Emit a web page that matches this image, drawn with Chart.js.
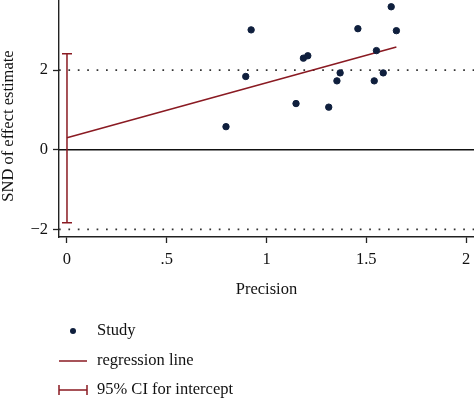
<!DOCTYPE html>
<html>
<head>
<meta charset="utf-8">
<script src="https://cdn.jsdelivr.net/npm/chart.js@4/dist/chart.umd.min.js"></script>
<style>
html,body{margin:0;padding:0;background:#fff;}
#wrap{width:474px;height:400px;}
</style>
</head>
<body>
<div id="wrap"><canvas id="c" width="474" height="400"></canvas></div>
<script>
// Study points: precision (x) and standardized effect (SND, y)
const studyPrecision = [0.797, 0.896, 0.923, 1.148, 1.185, 1.207, 1.312, 1.353, 1.369, 1.458, 1.540, 1.551, 1.585, 1.625, 1.651];
const studySND       = [0.58, 1.84, 3.01, 1.16, 2.30, 2.36, 1.07, 1.73, 1.93, 3.04, 1.73, 2.49, 1.93, 3.59, 2.99];
// Regression line endpoints
const regX = [0, 1.651];
const regY = [0.30, 2.58];
// 95% CI for intercept
const ciX = 0;
const ciLow = -1.83;
const ciHigh = 2.41;
// Axis ticks
const xTicks = [0, 0.5, 1, 1.5, 2];
const yTicks = [-2, 0, 2];
const xRange = [-0.04, 2.04];
const yRange = [-2.19, 3.76];
// Reference lines
const refLevels = [0, 2, -2];
const yTitle = 'SND of effect estimate';

const NAVY = '#0f1f3d';
const RED = '#8a1a22';
const AXIS = '#222';
const FONT = "'Liberation Serif', 'Times New Roman', serif";
const FS = 16.5;

const pts = studyPrecision.map((x, i) => ({x, y: studySND[i]}));

const refDatasets = refLevels.map(v => ({
  type: 'line',
  label: 'ref' + v,
  data: xRange.map(x => ({x, y: v})),
  borderColor: v === 0 ? '#111' : '#333',
  borderWidth: v === 0 ? 1.4 : 1.7,
  borderDash: v === 0 ? [] : [1.7, 7.7],
  pointRadius: 0,
  fill: false,
  order: 5
}));

const errorBar = {
  id: 'errorBar',
  afterDatasetsDraw(chart) {
    const {ctx, scales: {x, y}} = chart;
    const px = x.getPixelForValue(ciX);
    const yt = y.getPixelForValue(ciHigh);
    const yb = y.getPixelForValue(ciLow);
    ctx.save();
    ctx.strokeStyle = RED;
    ctx.lineWidth = 1.5;
    ctx.beginPath();
    ctx.moveTo(px, yt); ctx.lineTo(px, yb);
    ctx.moveTo(px - 5, yt); ctx.lineTo(px + 5, yt);
    ctx.moveTo(px - 5, yb); ctx.lineTo(px + 5, yb);
    ctx.stroke();
    ctx.restore();
  }
};

const yTitlePlugin = {
  id: 'yTitle',
  afterDraw(chart) {
    const ctx = chart.ctx;
    ctx.save();
    ctx.font = FS + 'px ' + FONT;
    ctx.fillStyle = '#111';
    ctx.textAlign = 'center';
    ctx.textBaseline = 'middle';
    ctx.translate(9, 126);
    ctx.rotate(-Math.PI / 2);
    ctx.fillText(yTitle, 0, 0);
    ctx.restore();
  }
};

const legendPlugin = {
  id: 'customLegend',
  afterDraw(chart) {
    const ctx = chart.ctx;
    const items = chart.data.datasets.filter(d => d.legendKind);
    ctx.save();
    ctx.font = FS + 'px ' + FONT;
    ctx.textBaseline = 'middle';
    const ys = [331, 361, 390];
    items.forEach((d, i) => {
      const yy = ys[i];
      if (d.legendKind === 'point') {
        ctx.fillStyle = NAVY;
        ctx.beginPath(); ctx.arc(73, yy, 3, 0, Math.PI * 2); ctx.fill();
      } else if (d.legendKind === 'line') {
        ctx.strokeStyle = RED; ctx.lineWidth = 1.5;
        ctx.beginPath(); ctx.moveTo(59, yy); ctx.lineTo(87, yy); ctx.stroke();
      } else {
        ctx.strokeStyle = RED; ctx.lineWidth = 1.5;
        ctx.beginPath(); ctx.moveTo(59, yy); ctx.lineTo(87, yy);
        ctx.moveTo(59, yy - 5); ctx.lineTo(59, yy + 5);
        ctx.moveTo(87, yy - 5); ctx.lineTo(87, yy + 5);
        ctx.stroke();
      }
      ctx.fillStyle = '#111';
      ctx.fillText(d.label, 97, yy);
    });
    ctx.restore();
  }
};

new Chart(document.getElementById('c'), {
  type: 'scatter',
  data: {
    datasets: [
      {
        type: 'scatter',
        label: 'Study',
        legendKind: 'point',
        data: pts,
        backgroundColor: NAVY,
        borderColor: NAVY,
        pointRadius: 3.2,
        pointHoverRadius: 3.2,
        order: 1,
        clip: false
      },
      {
        type: 'line',
        label: 'regression line',
        legendKind: 'line',
        data: regX.map((x, i) => ({x, y: regY[i]})),
        borderColor: RED,
        borderWidth: 1.6,
        pointRadius: 0,
        fill: false,
        order: 2
      },
      {
        type: 'scatter',
        label: '95% CI for intercept',
        legendKind: 'ci',
        data: [],
        pointRadius: 0
      },
      ...refDatasets
    ]
  },
  options: {
    responsive: false,
    animation: false,
    devicePixelRatio: 1,
    layout: { autoPadding: false, padding: { top: 0, right: 0, left: 0, bottom: 100 } },
    plugins: { legend: { display: false }, tooltip: { enabled: false } },
    scales: {
      x: {
        type: 'linear',
        min: xRange[0], max: xRange[1],
        afterBuildTicks: s => { s.ticks = xTicks.map(v => ({value: v})); },
        afterFit: s => { s.height = 63; s.paddingLeft = 0; s.paddingRight = 0; },
        ticks: {
          font: { family: FONT, size: FS },
          color: '#111',
          padding: 7,
          maxRotation: 0,
          callback: v => v === 0 ? '0' : String(v).replace(/^0\./, '.')
        },
        grid: { drawOnChartArea: false, drawTicks: true, tickLength: 6, tickColor: AXIS, tickWidth: 1.3 },
        border: { display: true, color: AXIS, width: 1.4 },
        title: { display: true, text: 'Precision', font: { family: FONT, size: FS }, color: '#111', padding: { top: 0, bottom: 0 } }
      },
      y: {
        type: 'linear',
        min: yRange[0], max: yRange[1],
        afterBuildTicks: s => { s.ticks = yTicks.map(v => ({value: v})); },
        afterFit: s => { s.width = 59; s.paddingTop = 0; s.paddingBottom = 0; },
        ticks: {
          font: { family: FONT, size: FS },
          color: '#111',
          padding: 5,
          callback: v => v < 0 ? '\u2212' + Math.abs(v) : String(v)
        },
        grid: { drawOnChartArea: false, drawTicks: true, tickLength: 6, tickColor: AXIS, tickWidth: 1.3 },
        border: { display: true, color: AXIS, width: 1.4 },
        title: { display: false }
      }
    }
  },
  plugins: [errorBar, yTitlePlugin, legendPlugin]
});
</script>
</body>
</html>
